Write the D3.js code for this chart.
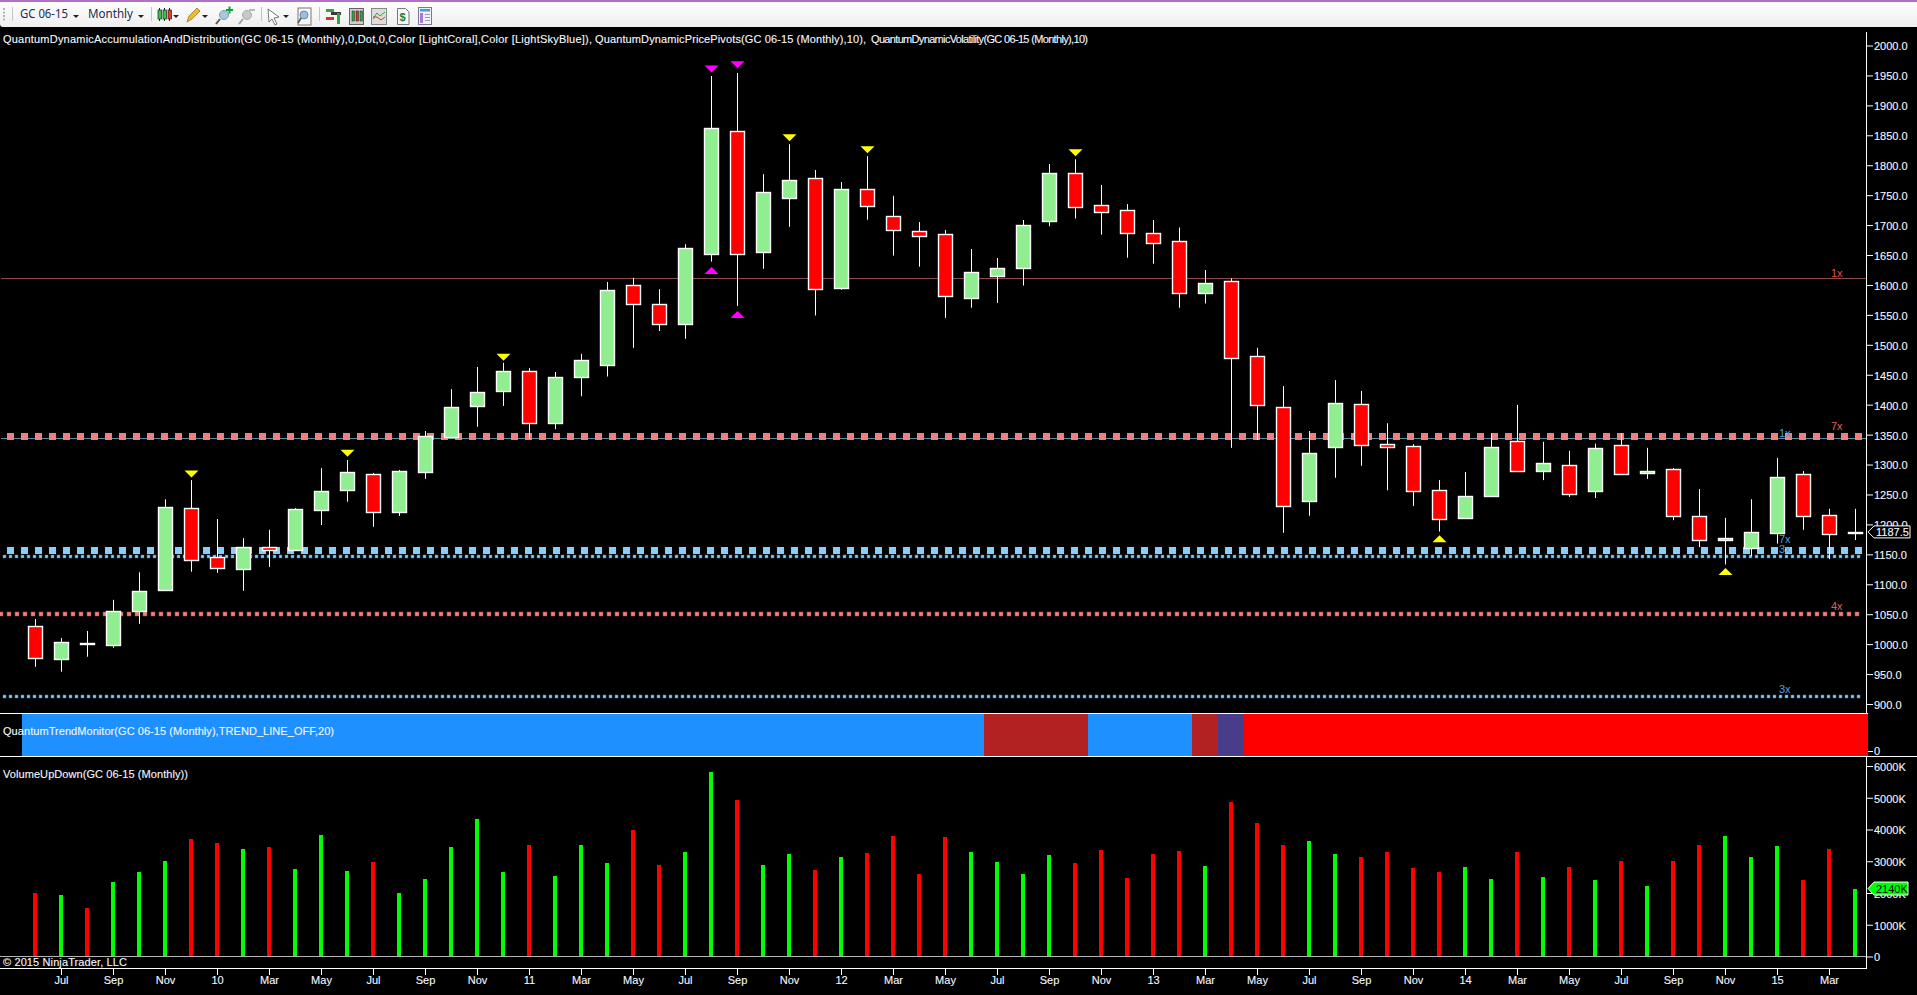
<!DOCTYPE html>
<html>
<head>
<meta charset="utf-8">
<title>GC 06-15 Monthly</title>
<script src="https://cdn.jsdelivr.net/npm/d3@7"></script>
<style>
	html, body { margin: 0; padding: 0; background: #000; overflow: hidden; }
	svg { display: block; }
	text { font-family: "Liberation Sans", Arial, sans-serif; font-size: 11px; fill: #f2f6ff; stroke: #f2f6ff; stroke-width: 0.12px; }
	.domain { display: none; }
	.tick line { stroke: #fff; }
</style>
</head>
<body>
<svg id="chart" width="1917" height="995"></svg>
<script>
'use strict';

const months = [
	"2009-06","2009-07","2009-08","2009-09","2009-10","2009-11","2009-12",
	"2010-01","2010-02","2010-03","2010-04","2010-05","2010-06","2010-07","2010-08","2010-09","2010-10","2010-11","2010-12",
	"2011-01","2011-02","2011-03","2011-04","2011-05","2011-06","2011-07","2011-08","2011-09","2011-10","2011-11","2011-12",
	"2012-01","2012-02","2012-03","2012-04","2012-05","2012-06","2012-07","2012-08","2012-09","2012-10","2012-11","2012-12",
	"2013-01","2013-02","2013-03","2013-04","2013-05","2013-06","2013-07","2013-08","2013-09","2013-10","2013-11","2013-12",
	"2014-01","2014-02","2014-03","2014-04","2014-05","2014-06","2014-07","2014-08","2014-09","2014-10","2014-11","2014-12",
	"2015-01","2015-02","2015-03","2015-04"];

const openPrice = [
	1031,976,1001,999,1056,1091,1227,1145,1126,1163,1158,1224.5,1258,1283.5,1221,1288,1346,1397,1423,1457,1370,1447,1467,1600,
	1569,1534,1652,1857,1655.5,1746,1778,1595,1761,1716,1690,1685,1579,1615,1629,1706,1786.5,1733,1726,1686,1673,1587,1606,1482,
	1396,1239.5,1330,1401,1335,1330.5,1257,1211,1248,1339,1290,1299,1255,1332,1286,1292,1213.5,1174,1161,1186,1283.5,1215,1185];
const highPrice = [
	1042,1010,1022,1074,1120,1242,1274,1209,1177,1191,1227,1294,1307.5,1286,1291,1356,1426,1463,1470,1461,1454.5,1485,1605,1612,
	1593,1668,1949,1954,1785,1835,1792,1772,1815,1749,1705,1692,1660,1645,1708.5,1802,1810,1767,1735,1708.5,1696,1625,1611,1495,
	1431,1356,1441,1423,1369,1334,1274,1287.5,1352,1399.5,1338,1323,1335,1352,1328,1294,1259,1211,1242,1311,1289,1226,1226];
const lowPrice = [
	962,954,979,994,1034,1089,1121,1119,1089,1129,1156,1199,1238,1196,1214,1276,1344,1363,1398,1343,1359,1414,1447,1495,
	1523,1510,1639,1565,1627,1697,1549,1592,1709,1649,1630.5,1545,1562,1570,1599,1698,1711,1684,1645.5,1635.5,1562,1569,1328,1341,
	1186,1214.5,1278,1298,1257,1231,1188,1209.5,1246,1287.5,1274,1246,1244,1284,1276,1207,1162,1133,1147,1168,1191,1142,1174];
const closePrice = [
	977,1003,1001.5,1056,1088,1228.5,1141,1128,1163,1158,1225,1255,1287,1221,1289,1347,1396,1422,1457,1370,1446,1474,1591,1569,
	1535,1661,1862,1652,1755,1775,1593,1761,1732,1691,1682,1581,1621,1628,1700,1786.5,1731,1722,1686,1670.5,1586,1603,1478,1400,
	1231,1320,1402,1333,1330,1256,1209.5,1247,1329,1289,1302,1251,1327,1285,1290,1214.5,1174,1178,1187,1280,1214.5,1184,1187.5];

// 1 = green bar, 0 = red bar, the colours do not always agree with the candles
const volumeUp = [
	0,1,0,1,1,1,0,0,1,0,1,1,1,0,1,1,1,1,1,0,1,1,1,0,
	0,1,1,0,1,1,0,1,0,0,0,0,1,1,1,1,0,0,0,0,0,1,0,0,
	0,1,1,0,0,0,0,1,1,0,1,0,1,0,1,0,0,1,1,1,0,0,1];
const volume = [
	1995,1932,1522,2341,2656,3003,3696,3570,3381,3444,2751,3822,2688,2971,1995,2436,3444,4326,2656,3507,2530,3507,2940,3980,
	2877,3286,5806,4924,2877,3223,2720,3129,3255,3790,2593,3759,3286,2971,2593,3192,2940,3350,2468,3223,3318,2846,4862,4200,
	3507,3633,3223,3129,3286,2783,2656,2814,2436,3286,2499,2814,2405,3003,2216,3003,3507,3790,3129,3476,2405,3381,2140];

// 0 dodgerblue, 1 firebrick, 2 darkslateblue, 3 red
const trendState = [
	0,0,0,0,0,0,0,0,0,0,0,0,0,0,0,0,0,0,0,0,0,0,0,0,
	0,0,0,0,0,0,0,0,0,0,0,0,0,1,1,1,1,0,0,0,0,1,2,3,
	3,3,3,3,3,3,3,3,3,3,3,3,3,3,3,3,3,3,3,3,3,3,3];
const trendColors = ["#1e90ff", "#b22222", "#483d8b", "#ff0000"];

// pivot markers: month and the price the triangle tip points at
const pivotYellowDown = ["2009-12","2010-06","2010-12","2011-11","2012-02","2012-10"];
const pivotYellowDownPrice = [1278.5,1313,1473.5,1840,1820,1815];
const pivotYellowUp = ["2013-12","2014-11"];
const pivotYellowUpPrice = [1182,1127];
const pivotMagentaDown = ["2011-08","2011-09"];
const pivotMagentaDownPrice = [1955,1962];
const pivotMagentaUp = ["2011-08","2011-09"];
const pivotMagentaUpPrice = [1630,1556.5];

const priceTicks = [900,950,1000,1050,1100,1150,1200,1250,1300,1350,1400,1450,1500,1550,1600,1650,1700,1750,1800,1850,1900,1950,2000];
const volumeTicks = [0,1000,2000,3000,4000,5000,6000];
const timeTickMonths = [
	"2009-07","2009-09","2009-11","2010-01","2010-03","2010-05","2010-07","2010-09","2010-11",
	"2011-01","2011-03","2011-05","2011-07","2011-09","2011-11","2012-01","2012-03","2012-05","2012-07","2012-09","2012-11",
	"2013-01","2013-03","2013-05","2013-07","2013-09","2013-11","2014-01","2014-03","2014-05","2014-07","2014-09","2014-11",
	"2015-01","2015-03"];
const timeTickLabels = [
	"Jul","Sep","Nov","10","Mar","May","Jul","Sep","Nov",
	"11","Mar","May","Jul","Sep","Nov","12","Mar","May","Jul","Sep","Nov",
	"13","Mar","May","Jul","Sep","Nov","14","Mar","May","Jul","Sep","Nov",
	"15","Mar"];

const resistanceLine = 1611;
const coralHeavy = 1346.5;
const blueThin = 1344;
const blueHeavy = 1156;
const blueSmall = 1146.5;
const coralSmall = 1050;
const blueLow = 912;

const lastPrice = 1187.5;
const lastVolume = 2140;

const svg = d3.select("#chart");

const x = d3.scaleBand().domain(months).range([22.5, 1868.5]);
const y = d3.scaleLinear().domain([900, 2000]).range([704, 45.5]);
const yVol = d3.scaleLinear().domain([0, 6000]).range([956.5, 766]);
const cx = m => x(m) + x.bandwidth() / 2;

function draw_toolbar()
{
	const bar = svg.append("g").attr("class", "toolbar");
	const grad = svg.append("defs").append("linearGradient")
		.attr("id", "toolGrad").attr("x1", 0).attr("x2", 0).attr("y1", 0).attr("y2", 1);
	grad.append("stop").attr("offset", "0%").attr("stop-color", "#ffffff");
	grad.append("stop").attr("offset", "100%").attr("stop-color", "#efefef");

	bar.append("rect").attr("width", 1917).attr("height", 27).attr("fill", "url(#toolGrad)");
	bar.append("rect").attr("width", 1917).attr("height", 2).attr("fill", "#b26fc6");
	bar.append("path").attr("d", "M0 24 L0 27 L3 27 Q0 27 0 24 Z").attr("fill", "#000");

	// grip + separators
	d3.range(4).forEach(i => bar.append("rect").attr("x", 3).attr("y", 8 + i * 3.5).attr("width", 2).attr("height", 2).attr("fill", "#b5b5b5"));
	[12.5, 151.5, 261.5, 319.5].forEach(sx => bar.append("line")
		.attr("x1", sx).attr("x2", sx).attr("y1", 7).attr("y2", 21).attr("stroke", "#c4c4c4"));

	const label = (t, lx, len) => bar.append("text").attr("x", lx).attr("y", 18)
		.attr("textLength", len).attr("lengthAdjust", "spacingAndGlyphs")
		.style("font-family", "'Noto Sans', sans-serif").style("font-size", "12px")
		.style("fill", "#1c2c50").style("stroke", "none").text(t);
	label("GC 06-15", 20, 48);
	label("Monthly", 88, 45);

	[76, 141, 176, 205, 286].forEach(c => bar.append("path")
		.attr("d", `M${c - 3} 15 L${c + 3} 15 L${c} 18 Z`).attr("fill", "#222"));

	// candle icon
	[[158, "#37c24a"], [163, "#37c24a"], [168, "#e23b30"]].forEach(([ix, col]) => {
		bar.append("line").attr("x1", ix + 1.5).attr("x2", ix + 1.5).attr("y1", 8).attr("y2", 21).attr("stroke", "#222");
		bar.append("rect").attr("x", ix).attr("y", 10).attr("width", 3.5).attr("height", 9).attr("fill", col).attr("stroke", "#222").attr("stroke-width", 0.7);
	});

	// pencil
	bar.append("path").attr("d", "M187 22 L189 16 L197 8 L200 11 L192 19 Z").attr("fill", "#f2b92c").attr("stroke", "#8a6a1a").attr("stroke-width", 0.7);

	// zoom in / zoom out
	bar.append("circle").attr("cx", 224).attr("cy", 15).attr("r", 4.5).attr("fill", "#a9c6e0").attr("stroke", "#8a9aa8");
	bar.append("line").attr("x1", 220).attr("y1", 19).attr("x2", 216).attr("y2", 24).attr("stroke", "#555").attr("stroke-width", 2);
	bar.append("path").attr("d", "M229 10 h2.5 v-2.5 h2 v2.5 h2.5 v2 h-2.5 v2.5 h-2 v-2.5 h-2.5 Z").attr("transform", "translate(-3,-1)").attr("fill", "#0aa52e");
	bar.append("circle").attr("cx", 247).attr("cy", 15).attr("r", 4.5).attr("fill", "#c8c8c8").attr("stroke", "#a8a8a8");
	bar.append("line").attr("x1", 243).attr("y1", 19).attr("x2", 239).attr("y2", 24).attr("stroke", "#a0a0a0").attr("stroke-width", 2);
	bar.append("rect").attr("x", 249).attr("y", 9).attr("width", 6).attr("height", 2).attr("fill", "#b8b8b8");

	// arrow
	bar.append("path").attr("d", "M268 9 L279 17 L274 18 L277 24 L275 25 L272 19 L269 22 Z").attr("fill", "#fff").attr("stroke", "#555").attr("stroke-width", 0.8);

	// magnifier on page
	bar.append("rect").attr("x", 298).attr("y", 8).attr("width", 13).attr("height", 17).attr("fill", "#f7f7f7").attr("stroke", "#777");
	bar.append("circle").attr("cx", 304).attr("cy", 15).attr("r", 4).attr("fill", "#9bbfe0").attr("stroke", "#6a8aa8");
	bar.append("line").attr("x1", 301).attr("y1", 18).attr("x2", 298).attr("y2", 23).attr("stroke", "#555").attr("stroke-width", 1.5);

	// trade icon
	[[326, 9, 8, "#2fa83c"], [326, 17, 8, "#d8332a"], [331, 12, 10, "#3a3a3a"]].forEach(([ix, iy, w, col]) =>
		bar.append("rect").attr("x", ix).attr("y", iy).attr("width", w).attr("height", 3).attr("fill", col));
	bar.append("rect").attr("x", 337).attr("y", 13).attr("width", 3).attr("height", 11).attr("fill", "#2fa83c");

	// chart style icons
	bar.append("rect").attr("x", 349.5).attr("y", 8.5).attr("width", 14).attr("height", 16).attr("fill", "#cfcfcf").attr("stroke", "#666");
	[[352, "#2fa83c"], [356, "#d8332a"], [360, "#2fa83c"]].forEach(([ix, col]) =>
		bar.append("rect").attr("x", ix).attr("y", 11).attr("width", 2.5).attr("height", 10).attr("fill", col).attr("stroke", "#222").attr("stroke-width", 0.5));
	bar.append("rect").attr("x", 371.5).attr("y", 8.5).attr("width", 15).attr("height", 16).attr("fill", "#dcdcdc").attr("stroke", "#888");
	bar.append("path").attr("d", "M373 19 L377 13 L380 16 L385 12").attr("fill", "none").attr("stroke", "#2fa83c");
	bar.append("path").attr("d", "M373 17 L377 17 L381 20 L385 17").attr("fill", "none").attr("stroke", "#d8332a");

	// dollar page
	bar.append("path").attr("d", "M397.5 8.5 h8 l3.5 3.5 v12.5 h-11.5 Z").attr("fill", "#f7f7f7").attr("stroke", "#777");
	bar.append("text").attr("x", 399.5).attr("y", 21).style("font-size", "11px").style("font-weight", "bold").style("fill", "#12803a").style("stroke", "none").text("$");

	// table
	bar.append("rect").attr("x", 418.5).attr("y", 7.5).attr("width", 13).attr("height", 17).attr("fill", "#eef2f8").attr("stroke", "#7a7a90");
	bar.append("rect").attr("x", 420).attr("y", 9).attr("width", 10).attr("height", 2.5).attr("fill", "#4a9ad8");
	bar.append("rect").attr("x", 420).attr("y", 13).attr("width", 3).attr("height", 10).attr("fill", "#a878e0");
	d3.range(3).forEach(i => bar.append("rect").attr("x", 425).attr("y", 14 + i * 3).attr("width", 5).attr("height", 1).attr("fill", "#9a9aa8"));
}

function draw_levels()
{
	const g = svg.append("g").attr("class", "levels");

	g.append("line").attr("x1", 1).attr("x2", 1866).attr("y1", y(resistanceLine)).attr("y2", y(resistanceLine))
		.attr("stroke", "#8c4a4e").attr("shape-rendering", "crispEdges");
	g.append("line").attr("x1", 1).attr("x2", 1866).attr("y1", y(blueThin)).attr("y2", y(blueThin))
		.attr("stroke", "#5b8ea6").attr("shape-rendering", "crispEdges");

	const row = (level, color, edge, start, step, w, h) => g.append("g").selectAll("rect")
		.data(d3.range(start, 1866 - w, step))
		.join("rect")
			.attr("x", d => d)
			.attr("y", Math.round(y(level) - h / 2))
			.attr("width", w)
			.attr("height", h)
			.attr("fill", color)
			.attr("stroke", edge)
			.attr("stroke-width", edge === "none" ? 0 : 0.5);

	row(coralHeavy, "#f08080", "none", 7, 14, 7, 7);
	row(blueHeavy, "#87cefa", "none", 7, 14, 7, 7);
	row(blueSmall, "#87cefa", "#3f7396", 3, 6, 3, 3);
	row(coralSmall, "#f08080", "#9c4c4c", -1, 8, 4, 4);
	row(blueLow, "#87cefa", "#3f7396", 3, 6, 3, 3);
}

function draw_candles()
{
	const g = svg.append("g").attr("class", "candles");

	g.selectAll("line")
		.data(months)
		.join("line")
			.attr("x1", d => cx(d))
			.attr("x2", d => cx(d))
			.attr("y1", (d, i) => y(highPrice[i]))
			.attr("y2", (d, i) => y(lowPrice[i]))
			.attr("stroke", "#fff");

	g.selectAll("rect")
		.data(months)
		.join("rect")
			.attr("x", d => cx(d) - 7)
			.attr("width", 14)
			.attr("y", (d, i) => Math.round(y(Math.max(openPrice[i], closePrice[i]))) + 0.5)
			.attr("height", (d, i) => Math.abs(Math.round(y(openPrice[i])) - Math.round(y(closePrice[i]))))
			.attr("fill", (d, i) => closePrice[i] >= openPrice[i] ? "#90ee90" : "#ff0000")
			.attr("stroke", "#fff")
			.attr("stroke-width", 1.4);
}

function draw_pivots()
{
	const g = svg.append("g").attr("class", "pivots");

	const down = (list, prices, color) => g.append("g").selectAll("path").data(list).join("path")
		.attr("d", (m, i) => {
			const tip = y(prices[i]);
			return `M${cx(m)} ${tip} L${cx(m) - 7} ${tip - 7} L${cx(m) + 7} ${tip - 7} Z`;
		})
		.attr("fill", color);
	const up = (list, prices, color) => g.append("g").selectAll("path").data(list).join("path")
		.attr("d", (m, i) => {
			const tip = y(prices[i]);
			return `M${cx(m)} ${tip} L${cx(m) - 7} ${tip + 7} L${cx(m) + 7} ${tip + 7} Z`;
		})
		.attr("fill", color);

	down(pivotYellowDown, pivotYellowDownPrice, "#ffff00");
	down(pivotMagentaDown, pivotMagentaDownPrice, "#ff00ff");
	up(pivotYellowUp, pivotYellowUpPrice, "#ffff00");
	up(pivotMagentaUp, pivotMagentaUpPrice, "#ff00ff");
}

function draw_trend()
{
	svg.append("g").attr("class", "trend").attr("shape-rendering", "crispEdges")
		.selectAll("rect")
		.data(months)
		.join("rect")
			.attr("x", d => x(d) - 0.5)
			.attr("y", 714)
			.attr("width", x.bandwidth())
			.attr("height", 42)
			.attr("fill", (d, i) => trendColors[trendState[i]]);
}

function draw_volume()
{
	svg.append("g").attr("class", "volume").attr("shape-rendering", "crispEdges")
		.selectAll("rect")
		.data(months)
		.join("rect")
			.attr("x", d => cx(d) - 2.5)
			.attr("width", 4)
			.attr("y", (d, i) => yVol(volume[i]))
			.attr("height", (d, i) => yVol(0) - yVol(volume[i]))
			.attr("fill", (d, i) => volumeUp[i] ? "#00ff00" : "#ff0000");

	svg.append("line").attr("x1", 0).attr("x2", 1867).attr("y1", 956.5).attr("y2", 956.5)
		.attr("stroke", "#b4b4b4");
}

function draw_axes()
{
	const g = svg.append("g").attr("class", "axes");

	g.append("g")
		.attr("transform", "translate(1867,0)")
		.call(d3.axisRight(y).tickValues(priceTicks).tickSize(6).tickPadding(1).tickFormat(d3.format(".1f")))
		.call(a => a.selectAll("text").attr("dy", "0.4em"));

	g.append("g")
		.attr("transform", "translate(1867,0)")
		.call(d3.axisRight(yVol).tickValues(volumeTicks).tickSize(6).tickPadding(1)
			.tickFormat(d => d === 0 ? "0" : d + "K"))
		.call(a => a.selectAll("text").attr("dy", "0.4em"));

	const labels = new Map(timeTickMonths.map((m, i) => [m, timeTickLabels[i]]));
	g.append("g")
		.attr("transform", "translate(0,968)")
		.call(d3.axisBottom(x).tickValues(timeTickMonths).tickSize(7).tickPadding(1).offset(0)
			.tickFormat(m => labels.get(m)));

	// trend panel only has its zero tick
	g.append("line").attr("x1", 1868).attr("x2", 1873).attr("y1", 751.5).attr("y2", 751.5).attr("stroke", "#fff");
	g.append("text").attr("x", 1874).attr("y", 755).text("0");

	const rule = (x1, x2, y1, y2) => g.append("line")
		.attr("x1", x1).attr("x2", x2).attr("y1", y1).attr("y2", y2)
		.attr("stroke", "#fff").attr("shape-rendering", "crispEdges");
	rule(1866.5, 1866.5, 32, 713);
	rule(1866.5, 1866.5, 757, 968);
	rule(0, 1868, 713.5, 713.5);
	rule(0, 1917, 756.5, 756.5);
	rule(0, 1867, 968.5, 968.5);
}

function draw_labels()
{
	const g = svg.append("g").attr("class", "labels");

	const fitted = (t, lx, ly, len) => g.append("text")
		.attr("x", lx).attr("y", ly).attr("textLength", len).attr("lengthAdjust", "spacing").text(t);

	fitted("QuantumDynamicAccumulationAndDistribution(GC 06-15 (Monthly),0,Dot,0,Color [LightCoral],Color [LightSkyBlue]),", 3, 43, 589);
	fitted("QuantumDynamicPricePivots(GC 06-15 (Monthly),10),", 595, 43, 271);
	fitted("QuantumDynamicVolatility(GC 06-15 (Monthly),10)", 871, 43, 217);
	fitted("QuantumTrendMonitor(GC 06-15 (Monthly),TREND_LINE_OFF,20)", 3, 735, 331);
	fitted("VolumeUpDown(GC 06-15 (Monthly))", 3, 778, 185);
	fitted("\u00a9 2015 NinjaTrader, LLC", 3, 966, 124);

	const tag = (t, tx, ty, color) => g.append("text").attr("x", tx).attr("y", ty)
		.style("fill", color).style("stroke", "none").text(t);
	tag("1x", 1831, y(resistanceLine) - 1, "#e0524a");
	tag("7x", 1831, y(coralHeavy) - 7, "#e0605a");
	tag("4x", 1831, y(coralSmall) - 4, "#e0605a");
	tag("1x", 1779, y(blueThin) - 1, "#4e9ee0");
	tag("7x", 1779, 543, "#4e9ee0");
	tag("3x", 1779, 553, "#4e9ee0");
	tag("3x", 1779, y(blueLow) - 4, "#4e9ee0");
}

function draw_last_tags()
{
	const g = svg.append("g").attr("class", "tags");

	const py = y(lastPrice);
	g.append("path")
		.attr("d", `M1868 ${py} L1874 ${py - 6} L1910 ${py - 6} L1910 ${py + 6} L1874 ${py + 6} Z`)
		.attr("fill", "#000").attr("stroke", "#fff");
	g.append("text").attr("x", 1876).attr("y", py + 4).text(d3.format(".1f")(lastPrice));

	const vy = yVol(lastVolume);
	g.append("path")
		.attr("d", `M1868 ${vy} L1874 ${vy - 6.5} L1908 ${vy - 6.5} L1908 ${vy + 6.5} L1874 ${vy + 6.5} Z`)
		.attr("fill", "#00ff00").attr("stroke", "#fff");
	g.append("text").attr("x", 1876).attr("y", vy + 4).style("fill", "#000").style("stroke", "none").text(lastVolume + "K");
}

draw_toolbar();
draw_levels();
draw_candles();
draw_pivots();
draw_trend();
draw_volume();
draw_axes();
draw_labels();
draw_last_tags();
</script>
</body>
</html>
